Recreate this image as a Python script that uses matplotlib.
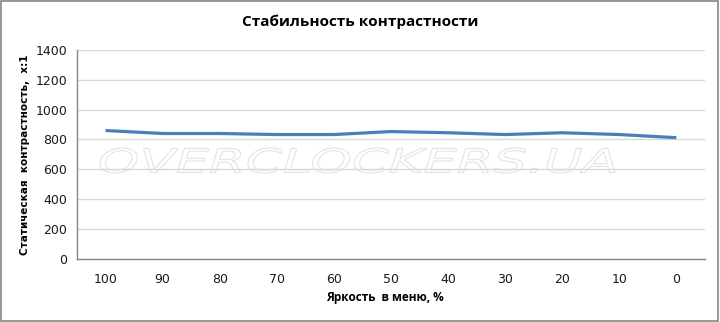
import matplotlib
matplotlib.use("Agg")
from matplotlib import pyplot as plt
from matplotlib.patches import Rectangle, PathPatch
from matplotlib.textpath import TextPath
from matplotlib.font_manager import FontProperties
from matplotlib.transforms import Affine2D
import numpy as np

brightness = ["100", "90", "80", "70", "60", "50", "40", "30", "20", "10", "0"]
contrast = [860, 840, 840, 833, 833, 853, 845, 833, 845, 833, 812]
y_ticks = [0, 200, 400, 600, 800, 1000, 1200, 1400]

fig = plt.figure(figsize=(7.2, 3.22), dpi=100)
ax = fig.add_axes([0.107, 0.196, 0.872, 0.649])

x = np.arange(len(brightness))
ax.plot(x, contrast, color="#4a7ebb", linewidth=2.3, solid_capstyle="butt", zorder=3)

ax.set_xlim(-0.5, len(brightness) - 0.5)
ax.set_ylim(0, 1400)
ax.set_yticks(y_ticks)
ax.set_xticks(x)
ax.set_xticklabels(brightness)
ax.tick_params(axis="both", length=0, labelsize=9, colors="#1a1a1a")
ax.tick_params(axis="x", pad=10)
ax.tick_params(axis="y", pad=7)
ax.grid(axis="y", color="#d9d9d9", linewidth=1)
ax.set_axisbelow(True)
for s in ["top", "right"]:
    ax.spines[s].set_visible(False)
for s in ["left", "bottom"]:
    ax.spines[s].set_color("#868686")
    ax.spines[s].set_linewidth(1)

# watermark: wide, outlined, very faint
tp = TextPath((0, 0), "OVERCLOCKERS.UA", size=1,
              prop=FontProperties(family="DejaVu Sans", style="italic", weight="light"))
ext = tp.get_extents()
sx = (515 / 720) / ext.width
sy = (25 / 322) / ext.height
tr = Affine2D().translate(-ext.x0, -ext.y0).scale(sx, sy).translate(100 / 720, 1 - 173 / 322)
wm = PathPatch(tp, transform=tr + fig.transFigure, facecolor="white",
               edgecolor="#e3e3e3", linewidth=0.8, zorder=1)
fig.patches.append(wm)
ax.set_zorder(2)
ax.patch.set_alpha(0)

fig.text(0.5, 0.932, "Стабильность контрастности", ha="center", va="center",
         fontsize=11, fontweight="bold", family="Open Sans")
fig.text(0.535, 0.075, "Яркость  в меню, %", ha="center", va="center",
         fontsize=8.5, fontweight="bold", family="Open Sans")
fig.text(0.035, 0.52, "Статическая  контрастность,  x:1", ha="center", va="center",
         rotation=90, fontsize=7.5, fontweight="bold")

fig.patches.append(Rectangle((0.002, 0.003), 0.995, 0.993, transform=fig.transFigure,
                             fill=False, edgecolor="#868686", linewidth=1.2))

fig.savefig("out.png", dpi=100)
